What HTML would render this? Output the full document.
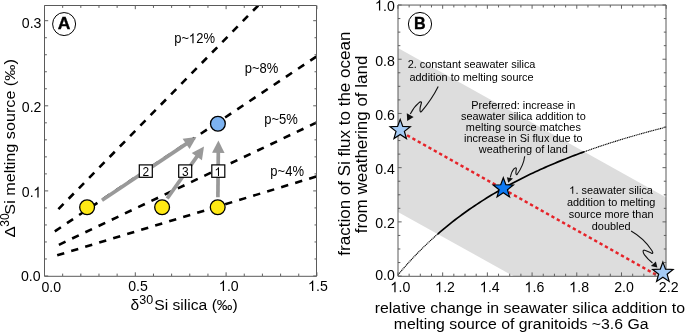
<!DOCTYPE html>
<html><head><meta charset="utf-8"><style>html,body{margin:0;padding:0;background:#fff;width:685px;height:333px;overflow:hidden}text{font-family:"Liberation Sans", sans-serif}</style></head>
<body><svg xmlns="http://www.w3.org/2000/svg" width="685" height="333" viewBox="0 0 685 333" style="display:block;will-change:transform" font-family='"Liberation Sans", sans-serif'><defs><clipPath id="cA"><rect x="44.5" y="5.5" width="272.4" height="270.5"/></clipPath><clipPath id="cB"><rect x="397.95" y="5.05" width="268.25000000000006" height="271.05"/></clipPath></defs><rect width="685" height="333" fill="#fff"/><g clip-path="url(#cA)"><path d="M58.4,209.2L265.70,-2.14" stroke="#000" stroke-width="2.6" stroke-dasharray="7.35 7.28" fill="none"/><path d="M54.8,231.3L325.31,50.54" stroke="#000" stroke-width="2.6" stroke-dasharray="7.35 7.28" fill="none"/><path d="M58.9,244.8L325.93,118.11" stroke="#000" stroke-width="2.6" stroke-dasharray="7.35 7.28" fill="none"/><path d="M57.2,255.3L326.47,173.49" stroke="#000" stroke-width="2.6" stroke-dasharray="7.35 7.28" fill="none"/></g><path d="M217.90,197.20L218.30,151.90" stroke="#999" stroke-width="3.7" fill="none"/><path d="M218.40,140.50L224.54,152.95L212.04,152.84Z" fill="#999"/><path d="M102.00,200.20L186.93,143.34" stroke="#999" stroke-width="3.7" fill="none"/><path d="M196.40,137.00L189.57,149.09L182.62,138.70Z" fill="#999"/><path d="M167.20,198.50L197.41,155.81" stroke="#999" stroke-width="3.7" fill="none"/><path d="M204.00,146.50L201.94,160.23L191.74,153.01Z" fill="#999"/><circle cx="87.1" cy="207.3" r="7.4" fill="#ffe914" stroke="#000" stroke-width="1.3"/><circle cx="162.1" cy="207.3" r="7.4" fill="#ffe914" stroke="#000" stroke-width="1.3"/><circle cx="217.7" cy="207.3" r="7.4" fill="#ffe914" stroke="#000" stroke-width="1.3"/><circle cx="217.9" cy="123.7" r="7.4" fill="#7cb2f0" stroke="#000" stroke-width="1.3"/><rect x="139.3" y="164.9" width="13" height="12.4" fill="#fff" stroke="#000" stroke-width="1.2"/><text transform="translate(142.47 175.90) scale(0.9500 1)" font-size="12.6" fill="#000">2</text><rect x="178.7" y="164.9" width="13" height="12.4" fill="#fff" stroke="#000" stroke-width="1.2"/><text transform="translate(181.91 175.90) scale(0.9500 1)" font-size="12.6" fill="#000">3</text><rect x="211.8" y="164.9" width="13" height="12.4" fill="#fff" stroke="#000" stroke-width="1.2"/><text transform="translate(214.81 175.90) scale(0.9500 1)" font-size="12.6" fill="#000"> </text><path transform="translate(214.81 175.90) scale(0.9500 1) translate(0.000 0) scale(0.00615 -0.00615)" d="M720 0L540 0L540 1090Q470 1030 370 975Q270 920 170 885L170 1055Q330 1120 440 1215Q555 1315 600 1409L720 1409Z" fill="#000"/><path d="M44.5,5.5H316.5V276.3H44.5Z" fill="none" stroke="#5a5a5a" stroke-width="1"/><path d="M44.50,276.0v-3.7M44.50,5.5v3.7M62.66,276.0v-2.4M62.66,5.5v2.4M80.82,276.0v-2.4M80.82,5.5v2.4M98.98,276.0v-2.4M98.98,5.5v2.4M117.14,276.0v-2.4M117.14,5.5v2.4M135.30,276.0v-3.7M135.30,5.5v3.7M153.46,276.0v-2.4M153.46,5.5v2.4M171.62,276.0v-2.4M171.62,5.5v2.4M189.78,276.0v-2.4M189.78,5.5v2.4M207.94,276.0v-2.4M207.94,5.5v2.4M226.10,276.0v-3.7M226.10,5.5v3.7M244.26,276.0v-2.4M244.26,5.5v2.4M262.42,276.0v-2.4M262.42,5.5v2.4M280.58,276.0v-2.4M280.58,5.5v2.4M298.74,276.0v-2.4M298.74,5.5v2.4M316.90,276.0v-3.7M316.90,5.5v3.7M44.5,276.00h3.7M316.9,276.00h-3.7M44.5,258.98h2.4M316.9,258.98h-2.4M44.5,241.96h2.4M316.9,241.96h-2.4M44.5,224.94h2.4M316.9,224.94h-2.4M44.5,207.92h2.4M316.9,207.92h-2.4M44.5,190.90h3.7M316.9,190.90h-3.7M44.5,173.88h2.4M316.9,173.88h-2.4M44.5,156.86h2.4M316.9,156.86h-2.4M44.5,139.84h2.4M316.9,139.84h-2.4M44.5,122.82h2.4M316.9,122.82h-2.4M44.5,105.80h3.7M316.9,105.80h-3.7M44.5,88.78h2.4M316.9,88.78h-2.4M44.5,71.76h2.4M316.9,71.76h-2.4M44.5,54.74h2.4M316.9,54.74h-2.4M44.5,37.72h2.4M316.9,37.72h-2.4M44.5,20.70h3.7M316.9,20.70h-3.7" stroke="#606060" stroke-width="1"/><text transform="translate(21.83 28.20) scale(0.9250 1)" font-size="15.3" fill="#000">0.3</text><text transform="translate(21.83 112.40) scale(0.9250 1)" font-size="15.3" fill="#000">0.2</text><text transform="translate(21.83 197.40) scale(0.9250 1)" font-size="15.3" fill="#000">0. </text><path transform="translate(21.83 197.40) scale(0.9250 1) translate(12.760 0) scale(0.00747 -0.00747)" d="M720 0L540 0L540 1090Q470 1030 370 975Q270 920 170 885L170 1055Q330 1120 440 1215Q555 1315 600 1409L720 1409Z" fill="#000"/><text transform="translate(20.93 281.10) scale(0.9250 1)" font-size="15.3" fill="#000">0.0</text><text transform="translate(41.46 292.00) scale(0.9250 1)" font-size="15.3" fill="#000">0.0</text><text transform="translate(128.26 291.10) scale(0.9250 1)" font-size="15.3" fill="#000">0.5</text><text transform="translate(219.06 291.10) scale(0.9250 1)" font-size="15.3" fill="#000"> .0</text><path transform="translate(219.06 291.10) scale(0.9250 1) translate(0.000 0) scale(0.00747 -0.00747)" d="M720 0L540 0L540 1090Q470 1030 370 975Q270 920 170 885L170 1055Q330 1120 440 1215Q555 1315 600 1409L720 1409Z" fill="#000"/><text transform="translate(308.26 291.10) scale(0.9250 1)" font-size="15.3" fill="#000"> .5</text><path transform="translate(308.26 291.10) scale(0.9250 1) translate(0.000 0) scale(0.00747 -0.00747)" d="M720 0L540 0L540 1090Q470 1030 370 975Q270 920 170 885L170 1055Q330 1120 440 1215Q555 1315 600 1409L720 1409Z" fill="#000"/><text transform="translate(174.16 43.30) scale(0.8900 1)" font-size="14.6" fill="#000">p~ 2%</text><path transform="translate(174.16 43.30) scale(0.8900 1) translate(16.646 0) scale(0.00713 -0.00713)" d="M720 0L540 0L540 1090Q470 1030 370 975Q270 920 170 885L170 1055Q330 1120 440 1215Q555 1315 600 1409L720 1409Z" fill="#000"/><text transform="translate(244.76 73.30) scale(0.8900 1)" font-size="14.6" fill="#000">p~8%</text><text transform="translate(264.26 124.30) scale(0.8900 1)" font-size="14.6" fill="#000">p~5%</text><text transform="translate(270.36 175.90) scale(0.8900 1)" font-size="14.6" fill="#000">p~4%</text><circle cx="64.1" cy="24.05" r="11.5" fill="#fff" stroke="#000" stroke-width="1"/><text stroke="#000" stroke-width="0.35" transform="translate(57.84 29.00) scale(1.0300 1)" font-size="17.0" font-weight="bold" fill="#000">A</text><text transform="translate(130.55 309.60) scale(1.0000 1)" font-size="15.5" fill="#000">δ</text><text transform="translate(139.32 304.40) scale(1.0000 1)" font-size="12.5" fill="#000">30</text><text transform="translate(154.19 309.60) scale(1.0111 1)" font-size="15.5" fill="#000">Si silica (‰)</text><text transform="translate(15.00 237.40) rotate(-90) scale(1.0800 1)" font-size="15.5" fill="#000">Δ</text><text transform="translate(9.40 226.66) rotate(-90) scale(1.0000 1)" font-size="12.0" fill="#000">30</text><text transform="translate(15.00 214.64) rotate(-90) scale(1.0445 1)" font-size="15.5" fill="#000">Si melting source (‰)</text><path d="M397.95,48.0L666.2,197.42L666.2,276.1L513.50,276.1L397.95,212Z" fill="#dddddd"/><g clip-path="url(#cB)"><path d="M397.95,274.93L398.61,274.13L399.28,273.34L399.94,272.55L400.60,271.76L401.27,270.98L401.93,270.20L402.59,269.43L403.25,268.66L403.92,267.90L404.58,267.14L405.24,266.39L405.91,265.64L406.57,264.89L407.23,264.15L407.90,263.41L408.56,262.68L409.22,261.95L409.89,261.22L410.55,260.50L411.21,259.79L411.87,259.07L412.54,258.36L413.20,257.66L413.86,256.96L414.53,256.26L415.19,255.57L415.85,254.88L416.52,254.19L417.18,253.51L417.84,252.83L418.51,252.15L419.17,251.48L419.83,250.81L420.49,250.15L421.16,249.49L421.82,248.83L422.48,248.18L423.15,247.53L423.81,246.88L424.47,246.24L425.14,245.60L425.80,244.96L426.46,244.33L427.13,243.70L427.79,243.07L428.45,242.45L429.11,241.83L429.78,241.21L430.44,240.60L431.10,239.99L431.77,239.38L432.43,238.78L433.09,238.18L433.76,237.58L434.42,236.98L435.08,236.39L435.75,235.80L436.41,235.22L437.07,234.63L437.73,234.05" stroke="#000" stroke-width="1.15" stroke-dasharray="1.15 0.65" fill="none"/><path d="M584.26,151.78L585.81,151.22L587.37,150.66L588.92,150.11L590.47,149.57L592.02,149.02L593.57,148.49L595.13,147.95L596.68,147.42L598.23,146.90L599.78,146.37L601.33,145.85L602.88,145.34L604.44,144.83L605.99,144.32L607.54,143.82L609.09,143.32L610.64,142.82L612.20,142.33L613.75,141.84L615.30,141.35L616.85,140.87L618.40,140.39L619.96,139.91L621.51,139.44L623.06,138.97L624.61,138.50L626.16,138.04L627.72,137.58L629.27,137.12L630.82,136.67L632.37,136.22L633.92,135.77L635.48,135.33L637.03,134.88L638.58,134.45L640.13,134.01L641.68,133.58L643.23,133.15L644.79,132.72L646.34,132.29L647.89,131.87L649.44,131.45L650.99,131.04L652.55,130.62L654.10,130.21L655.65,129.81L657.20,129.40L658.75,129.00L660.31,128.60L661.86,128.20L663.41,127.80L664.96,127.41L666.51,127.02L668.07,126.63L669.62,126.25L671.17,125.86L672.72,125.48L674.27,125.10L675.83,124.73L677.38,124.35" stroke="#000" stroke-width="1.15" stroke-dasharray="1.15 0.65" fill="none"/><path d="M437.73,234.05L440.18,231.94L442.62,229.87L445.06,227.83L447.50,225.83L449.95,223.87L452.39,221.94L454.83,220.04L457.27,218.17L459.71,216.34L462.16,214.54L464.60,212.77L467.04,211.03L469.48,209.31L471.92,207.63L474.37,205.97L476.81,204.34L479.25,202.74L481.69,201.16L484.14,199.60L486.58,198.07L489.02,196.56L491.46,195.08L493.90,193.62L496.35,192.18L498.79,190.76L501.23,189.37L503.67,187.99L506.11,186.64L508.56,185.30L511.00,183.99L513.44,182.69L515.88,181.41L518.32,180.15L520.77,178.91L523.21,177.68L525.65,176.47L528.09,175.28L530.54,174.10L532.98,172.94L535.42,171.80L537.86,170.67L540.30,169.56L542.75,168.46L545.19,167.37L547.63,166.30L550.07,165.25L552.51,164.20L554.96,163.17L557.40,162.16L559.84,161.15L562.28,160.16L564.72,159.19L567.17,158.22L569.61,157.26L572.05,156.32L574.49,155.39L576.94,154.47L579.38,153.56L581.82,152.66L584.26,151.78" stroke="#000" stroke-width="1.7" fill="none"/><path d="M400.2,131.4L659,276.4" stroke="#e62228" stroke-width="2.45" stroke-dasharray="3.3 2.83" stroke-dashoffset="-1.75" fill="none"/></g><path d="M398,5.05H666V276.3H398Z" fill="none" stroke="#5a5a5a" stroke-width="1"/><path d="M397.95,276.1v-3.7M397.95,5.05v3.7M409.13,276.1v-2.4M409.13,5.05v2.4M420.30,276.1v-2.4M420.30,5.05v2.4M431.48,276.1v-2.4M431.48,5.05v2.4M442.66,276.1v-3.7M442.66,5.05v3.7M453.84,276.1v-2.4M453.84,5.05v2.4M465.01,276.1v-2.4M465.01,5.05v2.4M476.19,276.1v-2.4M476.19,5.05v2.4M487.37,276.1v-3.7M487.37,5.05v3.7M498.54,276.1v-2.4M498.54,5.05v2.4M509.72,276.1v-2.4M509.72,5.05v2.4M520.90,276.1v-2.4M520.90,5.05v2.4M532.08,276.1v-3.7M532.08,5.05v3.7M543.25,276.1v-2.4M543.25,5.05v2.4M554.43,276.1v-2.4M554.43,5.05v2.4M565.61,276.1v-2.4M565.61,5.05v2.4M576.78,276.1v-3.7M576.78,5.05v3.7M587.96,276.1v-2.4M587.96,5.05v2.4M599.14,276.1v-2.4M599.14,5.05v2.4M610.31,276.1v-2.4M610.31,5.05v2.4M621.49,276.1v-3.7M621.49,5.05v3.7M632.67,276.1v-2.4M632.67,5.05v2.4M643.85,276.1v-2.4M643.85,5.05v2.4M655.02,276.1v-2.4M655.02,5.05v2.4M666.20,276.1v-3.7M666.20,5.05v3.7M397.95,276.10h3.7M666.2,276.10h-3.7M397.95,262.55h2.4M666.2,262.55h-2.4M397.95,248.99h2.4M666.2,248.99h-2.4M397.95,235.44h2.4M666.2,235.44h-2.4M397.95,221.88h3.7M666.2,221.88h-3.7M397.95,208.33h2.4M666.2,208.33h-2.4M397.95,194.77h2.4M666.2,194.77h-2.4M397.95,181.22h2.4M666.2,181.22h-2.4M397.95,167.66h3.7M666.2,167.66h-3.7M397.95,154.11h2.4M666.2,154.11h-2.4M397.95,140.55h2.4M666.2,140.55h-2.4M397.95,127.00h2.4M666.2,127.00h-2.4M397.95,113.44h3.7M666.2,113.44h-3.7M397.95,99.88h2.4M666.2,99.88h-2.4M397.95,86.33h2.4M666.2,86.33h-2.4M397.95,72.78h2.4M666.2,72.78h-2.4M397.95,59.22h3.7M666.2,59.22h-3.7M397.95,45.66h2.4M666.2,45.66h-2.4M397.95,32.11h2.4M666.2,32.11h-2.4M397.95,18.56h2.4M666.2,18.56h-2.4M397.95,5.00h3.7M666.2,5.00h-3.7" stroke="#606060" stroke-width="1"/><text transform="translate(375.23 279.80) scale(0.9250 1)" font-size="15.3" fill="#000">0.0</text><text transform="translate(375.23 228.18) scale(0.9250 1)" font-size="15.3" fill="#000">0.2</text><text transform="translate(375.23 173.96) scale(0.9250 1)" font-size="15.3" fill="#000">0.4</text><text transform="translate(375.23 119.74) scale(0.9250 1)" font-size="15.3" fill="#000">0.6</text><text transform="translate(375.23 65.52) scale(0.9250 1)" font-size="15.3" fill="#000">0.8</text><text transform="translate(375.23 10.60) scale(0.9250 1)" font-size="15.3" fill="#000"> .0</text><path transform="translate(375.23 10.60) scale(0.9250 1) translate(0.000 0) scale(0.00747 -0.00747)" d="M720 0L540 0L540 1090Q470 1030 370 975Q270 920 170 885L170 1055Q330 1120 440 1215Q555 1315 600 1409L720 1409Z" fill="#000"/><text transform="translate(390.61 292.20) scale(0.9250 1)" font-size="15.3" fill="#000"> .0</text><path transform="translate(390.61 292.20) scale(0.9250 1) translate(0.000 0) scale(0.00747 -0.00747)" d="M720 0L540 0L540 1090Q470 1030 370 975Q270 920 170 885L170 1055Q330 1120 440 1215Q555 1315 600 1409L720 1409Z" fill="#000"/><text transform="translate(435.32 292.20) scale(0.9250 1)" font-size="15.3" fill="#000"> .2</text><path transform="translate(435.32 292.20) scale(0.9250 1) translate(0.000 0) scale(0.00747 -0.00747)" d="M720 0L540 0L540 1090Q470 1030 370 975Q270 920 170 885L170 1055Q330 1120 440 1215Q555 1315 600 1409L720 1409Z" fill="#000"/><text transform="translate(480.03 292.20) scale(0.9250 1)" font-size="15.3" fill="#000"> .4</text><path transform="translate(480.03 292.20) scale(0.9250 1) translate(0.000 0) scale(0.00747 -0.00747)" d="M720 0L540 0L540 1090Q470 1030 370 975Q270 920 170 885L170 1055Q330 1120 440 1215Q555 1315 600 1409L720 1409Z" fill="#000"/><text transform="translate(524.74 292.20) scale(0.9250 1)" font-size="15.3" fill="#000"> .6</text><path transform="translate(524.74 292.20) scale(0.9250 1) translate(0.000 0) scale(0.00747 -0.00747)" d="M720 0L540 0L540 1090Q470 1030 370 975Q270 920 170 885L170 1055Q330 1120 440 1215Q555 1315 600 1409L720 1409Z" fill="#000"/><text transform="translate(569.45 292.20) scale(0.9250 1)" font-size="15.3" fill="#000"> .8</text><path transform="translate(569.45 292.20) scale(0.9250 1) translate(0.000 0) scale(0.00747 -0.00747)" d="M720 0L540 0L540 1090Q470 1030 370 975Q270 920 170 885L170 1055Q330 1120 440 1215Q555 1315 600 1409L720 1409Z" fill="#000"/><text transform="translate(614.15 292.20) scale(0.9250 1)" font-size="15.3" fill="#000">2.0</text><text transform="translate(658.86 292.20) scale(0.9250 1)" font-size="15.3" fill="#000">2.2</text><path d="M400.20,119.40L402.79,126.44L410.28,126.72L404.38,131.36L406.43,138.58L400.20,134.40L393.97,138.58L396.02,131.36L390.12,126.72L397.61,126.44Z" fill="#a5cbf5" stroke="#000" stroke-width="1.2" stroke-linejoin="miter"/><path d="M503.30,177.70L505.89,184.74L513.38,185.02L507.48,189.66L509.53,196.88L503.30,192.70L497.07,196.88L499.12,189.66L493.22,185.02L500.71,184.74Z" fill="#0f7af2" stroke="#000" stroke-width="1.2" stroke-linejoin="miter"/><path d="M662.90,262.10L665.52,269.20L673.08,269.49L667.13,274.18L669.19,281.46L662.90,277.25L656.61,281.46L658.67,274.18L652.72,269.49L660.28,269.20Z" fill="#a5cbf5" stroke="#000" stroke-width="1.2" stroke-linejoin="miter"/><circle cx="420" cy="24.05" r="11.6" fill="#fff" stroke="#000" stroke-width="1"/><text stroke="#000" stroke-width="0.35" transform="translate(414.00 29.00) scale(0.9500 1)" font-size="17.0" font-weight="bold" fill="#000">B</text><text transform="translate(407.68 68.40) scale(1.0000 1)" font-size="10.9" fill="#000">2. constant seawater silica</text><text transform="translate(409.49 80.60) scale(1.0000 1)" font-size="10.9" fill="#000">addition to melting source</text><text transform="translate(471.30 108.90) scale(1.0000 1)" font-size="10.9" fill="#000">Preferred: increase in</text><text transform="translate(460.99 119.80) scale(1.0000 1)" font-size="10.9" fill="#000">seawater silica addition to</text><text transform="translate(465.85 130.70) scale(1.0000 1)" font-size="10.9" fill="#000">melting source matches</text><text transform="translate(464.02 141.60) scale(1.0000 1)" font-size="10.9" fill="#000">increase in Si flux due to</text><text transform="translate(478.86 152.50) scale(1.0000 1)" font-size="10.9" fill="#000">weathering of land</text><text transform="translate(569.40 193.70) scale(1.0000 1)" font-size="10.9" fill="#000"> . seawater silica</text><path transform="translate(569.40 193.70) scale(1.0000 1) translate(0.000 0) scale(0.00532 -0.00532)" d="M720 0L540 0L540 1090Q470 1030 370 975Q270 920 170 885L170 1055Q330 1120 440 1215Q555 1315 600 1409L720 1409Z" fill="#000"/><text transform="translate(566.97 206.00) scale(1.0000 1)" font-size="10.9" fill="#000">addition to melting</text><text transform="translate(568.79 218.20) scale(1.0000 1)" font-size="10.9" fill="#000">source more than</text><text transform="translate(591.80 230.40) scale(1.0000 1)" font-size="10.9" fill="#000">doubled</text><path d="M438.2,86.5C434,95 427,105 421.6,111.3C420.5,112.6 419.8,111.5 420,109C420.2,106 421.5,103.5 421.5,102.6C421.5,101.5 420,101.8 418.8,102.8C415.5,105.5 412.5,109.5 410.3,114" stroke="#111" stroke-width="1.1" fill="none"/><path d="M407.2,121.0L406.8,113.2L413.6,117.0Z" fill="#111"/><path d="M524.7,156.3C524,162 521,169 517.2,174.3C516.3,175.3 515.8,174 515.9,172.5C516,170.5 516.6,168.8 516.3,168.2C515.8,167.5 514.8,168 513.8,169C512.5,170.5 511.2,173 510.3,177.5" stroke="#111" stroke-width="1.1" fill="none"/><path d="M508.2,182.8L506.9,177.3L513.0,178.6Z" fill="#111"/><path d="M631.1,231.1C638,235 646,242 651.5,250C653.5,253 653,253.8 651.5,253.2C649,252.2 646.5,250.8 644.5,250.2C642.5,249.8 642.8,252.5 644.5,254.8C646.5,257.5 649.5,260.5 652.5,263" stroke="#111" stroke-width="1.1" fill="none"/><path d="M657.4,267.5L650.9,266.0L655.9,261.5Z" fill="#111"/><text transform="translate(374.75 312.70) scale(1.0800 1)" font-size="14.7" fill="#000">relative change in seawater silica addition to</text><text transform="translate(393.85 329.00) scale(1.0780 1)" font-size="14.7" fill="#000">melting source of granitoids ~3.6 Ga</text><text transform="translate(350.30 255.64) rotate(-90) scale(1.0770 1)" font-size="15.8" fill="#000">fraction of Si flux to the ocean</text><text transform="translate(366.70 233.24) rotate(-90) scale(1.0770 1)" font-size="15.8" fill="#000">from weathering of land</text></svg></body></html>
